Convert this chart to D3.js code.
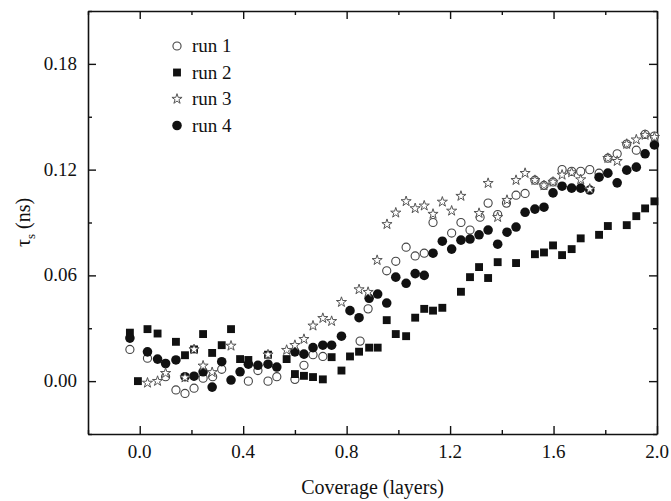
<!DOCTYPE html>
<html>
<head>
<meta charset="utf-8">
<script src="https://cdn.jsdelivr.net/npm/d3@7"></script>
<style>
  body { margin: 0; background: #fff; }
</style>
</head>
<body>
<div class="canvas"></div>
<script>
// data: [coverage, tau_s]
const run1 = [[-0.038,0.018],[0.03,0.013],[0.10,0.0025],[0.14,-0.005],[0.175,-0.007],[0.21,-0.004],[0.245,0.0017],[0.282,0.0025],[0.317,0.0067],[0.42,0.0],[0.457,0.006],[0.496,0.0],[0.53,0.0025],[0.6,0.001],[0.635,0.009],[0.67,0.015],[0.708,0.014],[0.852,0.0227],[0.883,0.041],[0.955,0.0626],[0.99,0.068],[1.03,0.076],[1.065,0.071],[1.1,0.0726],[1.134,0.09],[1.206,0.084],[1.242,0.09],[1.277,0.0857],[1.316,0.093],[1.347,0.101],[1.384,0.0945],[1.418,0.101],[1.455,0.1055],[1.49,0.1065],[1.528,0.114],[1.563,0.111],[1.598,0.113],[1.633,0.12],[1.67,0.119],[1.705,0.119],[1.74,0.12],[1.776,0.118],[1.81,0.1265],[1.846,0.129],[1.883,0.1345],[1.92,0.131],[1.954,0.14],[1.99,0.139]];
const run2 = [[-0.038,0.0275],[-0.007,0.0],[0.03,0.0295],[0.069,0.027],[0.14,0.0223],[0.175,0.0147],[0.21,0.018],[0.245,0.0267],[0.28,0.016],[0.317,0.0204],[0.353,0.0295],[0.388,0.0125],[0.42,0.012],[0.496,0.015],[0.568,0.0125],[0.6,0.004],[0.635,0.003],[0.67,0.0023],[0.708,0.001],[0.742,0.0136],[0.78,0.006],[0.813,0.014],[0.848,0.0167],[0.887,0.019],[0.92,0.019],[0.955,0.0346],[0.99,0.0267],[1.03,0.0255],[1.065,0.036],[1.1,0.041],[1.134,0.04],[1.17,0.0416],[1.242,0.0507],[1.277,0.059],[1.312,0.0647],[1.347,0.0585],[1.384,0.0675],[1.455,0.067],[1.528,0.072],[1.563,0.073],[1.598,0.077],[1.633,0.0715],[1.67,0.0749],[1.705,0.081],[1.776,0.083],[1.81,0.088],[1.883,0.0885],[1.92,0.0936],[1.954,0.098],[1.99,0.102]];
const run3 = [[0.03,-0.001],[0.069,0.0],[0.10,0.0045],[0.175,0.002],[0.21,0.018],[0.245,0.0087],[0.28,0.005],[0.353,0.02],[0.496,0.015],[0.568,0.0176],[0.6,0.0204],[0.635,0.0238],[0.67,0.0314],[0.708,0.0357],[0.742,0.034],[0.78,0.0448],[0.848,0.052],[0.883,0.0505],[0.918,0.0686],[0.956,0.089],[0.99,0.0955],[1.03,0.102],[1.065,0.098],[1.1,0.0995],[1.134,0.0948],[1.17,0.1017],[1.206,0.0966],[1.242,0.105],[1.312,0.0953],[1.347,0.1123],[1.384,0.093],[1.42,0.1027],[1.455,0.114],[1.49,0.118],[1.528,0.114],[1.563,0.111],[1.598,0.113],[1.633,0.117],[1.67,0.1184],[1.705,0.1144],[1.74,0.109],[1.81,0.1265],[1.846,0.1248],[1.883,0.1345],[1.92,0.137],[1.954,0.1396],[1.99,0.1384]];
const run4 = [[-0.038,0.0244],[0.03,0.0166],[0.069,0.0125],[0.10,0.010],[0.14,0.012],[0.175,0.0025],[0.21,0.0028],[0.245,0.0053],[0.28,-0.0034],[0.317,0.011],[0.353,0.0006],[0.388,0.0053],[0.42,0.0096],[0.457,0.009],[0.496,0.0096],[0.53,0.008],[0.6,0.0166],[0.635,0.0153],[0.67,0.019],[0.708,0.0204],[0.742,0.0204],[0.78,0.0255],[0.813,0.04],[0.848,0.036],[0.887,0.047],[0.92,0.0494],[0.955,0.0443],[0.99,0.059],[1.03,0.0555],[1.065,0.061],[1.1,0.06],[1.134,0.0726],[1.17,0.0794],[1.206,0.0749],[1.242,0.08],[1.277,0.0806],[1.312,0.083],[1.347,0.0857],[1.384,0.0777],[1.42,0.0845],[1.455,0.0874],[1.49,0.0958],[1.528,0.0976],[1.563,0.0987],[1.598,0.1068],[1.633,0.1106],[1.67,0.1095],[1.705,0.1095],[1.74,0.1084],[1.776,0.1157],[1.81,0.118],[1.846,0.1125],[1.883,0.1197],[1.92,0.1214],[1.954,0.129],[1.99,0.134]];

const seriesNames = ["run 1", "run 2", "run 3", "run 4"];
const xTicks = [-0.2, 0, 0.2, 0.4, 0.6, 0.8, 1.0, 1.2, 1.4, 1.6, 1.8, 2.0];
const xLabels = [0, 0.4, 0.8, 1.2, 1.6, 2.0];
const yTicks = [-0.03, 0, 0.03, 0.06, 0.09, 0.12, 0.15, 0.18, 0.21];
const yLabels = [0, 0.06, 0.12, 0.18];

const dims = { width: 671, height: 501 };
const margin = { left: 88, right: 14, top: 11, bottom: 67 };
const serif = "Liberation Serif";

const svg = d3
  .select(".canvas")
  .append("svg")
  .attr("width", dims.width)
  .attr("height", dims.height)
  .attr("font-family", serif);

const x = d3.scaleLinear().domain([-0.2, 2.0]).range([margin.left, dims.width - margin.right]);
const y = d3.scaleLinear().domain([-0.03, 0.21]).range([dims.height - margin.bottom, margin.top]);

const isMajorX = (v) => xLabels.some((l) => Math.abs(l - v) < 1e-9);
const isMajorY = (v) => yLabels.some((l) => Math.abs(l - v) < 1e-9);

// axes: ticks point inward on all four sides
const axisB = svg.append("g").attr("transform", `translate(0,${y.range()[0]})`)
  .call(d3.axisBottom(x).tickValues(xTicks).tickSizeInner(0).tickSizeOuter(0).tickFormat(""));
const axisT = svg.append("g").attr("transform", `translate(0,${y.range()[1]})`)
  .call(d3.axisTop(x).tickValues(xTicks).tickSizeInner(0).tickSizeOuter(0).tickFormat(""));
const axisL = svg.append("g").attr("transform", `translate(${x.range()[0]},0)`)
  .call(d3.axisLeft(y).tickValues(yTicks).tickSizeInner(0).tickSizeOuter(0).tickFormat(""));
const axisR = svg.append("g").attr("transform", `translate(${x.range()[1]},0)`)
  .call(d3.axisRight(y).tickValues(yTicks).tickSizeInner(0).tickSizeOuter(0).tickFormat(""));

axisB.selectAll(".tick line").attr("y2", (d) => (isMajorX(d) ? -8 : -4));
axisT.selectAll(".tick line").attr("y2", (d) => (isMajorX(d) ? 8 : 4));
axisL.selectAll(".tick line").attr("x2", (d) => (isMajorY(d) ? 8 : 4));
axisR.selectAll(".tick line").attr("x2", (d) => (isMajorY(d) ? -8 : -4));

svg.selectAll(".domain").attr("stroke", "#111").attr("stroke-width", 1.6);
svg.selectAll(".tick line").attr("stroke", "#111").attr("stroke-width", 1.4);

// tick labels
svg.append("g").selectAll("text").data(xLabels).join("text")
  .attr("x", (d) => x(d))
  .attr("y", y.range()[0] + 24)
  .attr("text-anchor", "middle")
  .attr("font-family", serif)
  .attr("font-size", 19)
  .attr("fill", "#111")
  .text((d) => d3.format(".1f")(d));

svg.append("g").selectAll("text").data(yLabels).join("text")
  .attr("x", x.range()[0] - 11)
  .attr("y", (d) => y(d) + 6)
  .attr("text-anchor", "end")
  .attr("font-family", serif)
  .attr("font-size", 19)
  .attr("fill", "#111")
  .text((d) => d3.format(".2f")(d));

// axis titles
svg.append("text")
  .attr("x", (x.range()[0] + x.range()[1]) / 2)
  .attr("y", 494)
  .attr("text-anchor", "middle")
  .attr("font-family", serif)
  .attr("font-size", 20)
  .attr("fill", "#111")
  .text("Coverage (layers)");

const yTitle = svg.append("text")
  .attr("transform", `translate(30,${(y.range()[0] + y.range()[1]) / 2}) rotate(-90)`)
  .attr("text-anchor", "middle")
  .attr("font-family", serif)
  .attr("font-size", 20)
  .attr("fill", "#111");
yTitle.append("tspan").text("τ");
yTitle.append("tspan").attr("font-size", 13).attr("dy", 5).text("s");
yTitle.append("tspan").attr("dy", -5).text(" (ns)");

// markers
const symbols = {
  "run 1": { type: d3.symbolCircle, size: 52, fill: "#fff", stroke: "#444", sw: 1.1 },
  "run 2": { type: d3.symbolSquare, size: 62, fill: "#111", stroke: "none", sw: 0 },
  "run 3": { type: d3.symbolStar, size: 32, fill: "#fff", stroke: "#555", sw: 1 },
  "run 4": { type: d3.symbolCircle, size: 72, fill: "#111", stroke: "none", sw: 0 },
};
const runs = { "run 1": run1, "run 2": run2, "run 3": run3, "run 4": run4 };

const graph = svg.append("g");
["run 1", "run 2", "run 4", "run 3"].forEach((name) => {
  const s = symbols[name];
  graph.append("g").selectAll("path").data(runs[name]).join("path")
    .attr("transform", (d) => `translate(${x(d[0])},${y(d[1])})`)
    .attr("d", d3.symbol().type(s.type).size(s.size))
    .attr("fill", s.fill)
    .attr("stroke", s.stroke)
    .attr("stroke-width", s.sw);
});

// legend
const legendGroup = svg.append("g").attr("transform", "translate(177,46)");
const rows = legendGroup.selectAll("g").data(seriesNames).join("g")
  .attr("transform", (d, i) => `translate(0,${i * 26.5})`);
rows.append("path")
  .attr("d", (d) => d3.symbol().type(symbols[d].type).size(symbols[d].size)())
  .attr("fill", (d) => symbols[d].fill)
  .attr("stroke", (d) => symbols[d].stroke)
  .attr("stroke-width", (d) => symbols[d].sw);
rows.append("text")
  .attr("x", 15)
  .attr("y", 6)
  .attr("font-family", serif)
  .attr("font-size", 19)
  .attr("fill", "#111")
  .text((d) => d);
</script>
</body>
</html>
